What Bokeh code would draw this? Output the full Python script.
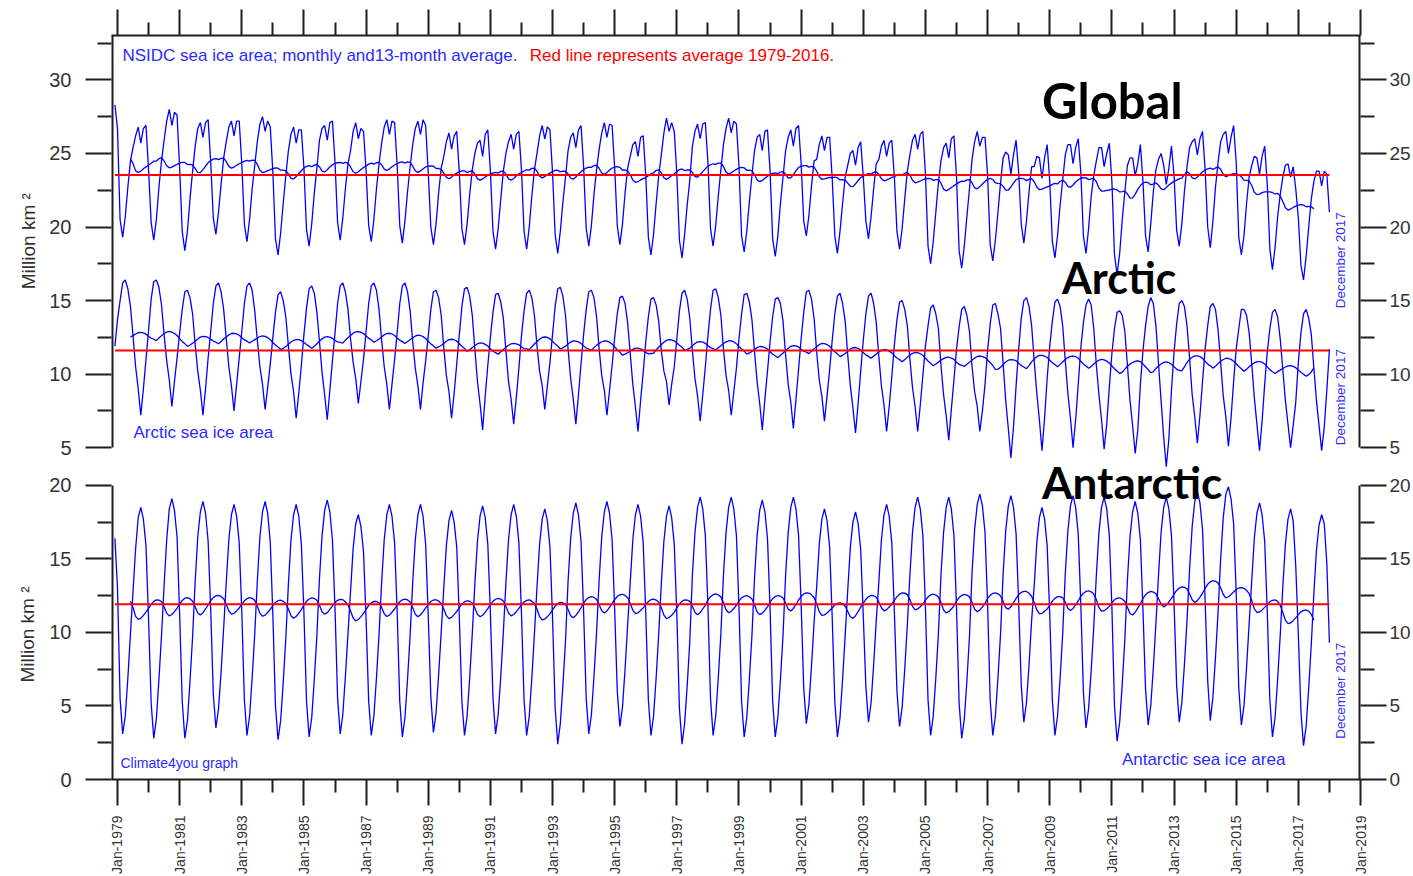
import math
import numpy as np
import pandas as pd
from bokeh.plotting import figure
from bokeh.models import (Range1d, LinearAxis, FixedTicker, Label,
                          CustomJSTickFormatter, GlobalInlineStyleSheet)
from bokeh.embed import file_html
from bokeh.resources import INLINE

# ---------------- DATA (million km2, monthly, Nov 1978 .. Dec 2017) -------------
first_year = 1978
first_month = 11

arctic = [
    11.9, 13.7,
    15.0, 16.2, 16.4, 15.8, 14.6, 12.6, 10.5, 9.0, 7.2, 9.0, 11.0, 13.0,   # 1979
    15.1, 16.3, 16.4, 15.9, 14.7, 12.7, 10.9, 9.6, 7.8, 9.5, 11.1, 12.8,   # 1980
    14.4, 15.6, 15.7, 15.2, 14.1, 12.0, 10.2, 8.9, 7.2, 9.0, 11.1, 12.9,   # 1981
    14.8, 16.0, 16.2, 15.6, 14.4, 12.4, 10.5, 9.2, 7.5, 9.3, 11.1, 12.9,   # 1982
    14.8, 16.0, 16.2, 15.7, 14.3, 12.3, 10.5, 9.3, 7.6, 9.1, 10.7, 12.5,   # 1983
    14.2, 15.4, 15.6, 15.0, 13.9, 11.9, 10.0, 8.8, 7.0, 8.7, 10.6, 12.7,   # 1984
    14.5, 15.8, 16.0, 15.5, 14.2, 12.2, 10.1, 8.6, 6.9, 8.9, 10.9, 12.8,   # 1985
    14.8, 16.0, 16.2, 15.6, 14.4, 12.4, 10.8, 9.7, 8.0, 9.5, 11.0, 12.9,   # 1986
    14.8, 16.0, 16.2, 15.7, 14.4, 12.3, 10.5, 9.3, 7.6, 9.3, 11.0, 12.8,   # 1987
    14.8, 16.0, 16.2, 15.6, 14.3, 12.2, 10.4, 9.2, 7.6, 9.4, 10.9, 12.6,   # 1988
    14.4, 15.6, 15.7, 15.2, 14.0, 11.8, 9.9, 8.8, 7.0, 8.7, 10.7, 12.7,    # 1989
    14.6, 15.8, 15.9, 15.3, 14.0, 11.7, 9.5, 8.0, 6.2, 8.5, 10.6, 12.5,    # 1990
    14.2, 15.4, 15.5, 14.9, 13.8, 11.6, 9.5, 8.3, 6.6, 8.4, 10.4, 12.6,    # 1991
    14.3, 15.5, 15.7, 15.2, 14.0, 11.9, 10.2, 9.2, 7.6, 9.2, 10.8, 12.7,   # 1992
    14.6, 15.8, 15.9, 15.3, 14.0, 11.7, 9.7, 8.3, 6.6, 8.6, 10.7, 12.7,    # 1993
    14.4, 15.6, 15.7, 15.2, 13.9, 11.7, 9.9, 8.9, 7.2, 8.9, 10.6, 12.5,    # 1994
    14.1, 15.2, 15.3, 14.8, 13.5, 11.4, 9.3, 7.8, 6.1, 8.2, 10.1, 12.2,    # 1995
    13.9, 15.1, 15.2, 14.7, 13.6, 11.6, 10.2, 9.5, 7.9, 9.3, 10.5, 12.4,   # 1996
    14.3, 15.5, 15.7, 15.1, 13.8, 11.6, 9.7, 8.5, 6.8, 8.6, 10.5, 12.6,    # 1997
    14.4, 15.7, 15.8, 15.2, 14.0, 11.7, 9.9, 8.9, 7.2, 8.8, 10.4, 12.4,    # 1998
    14.1, 15.4, 15.5, 14.9, 13.7, 11.5, 9.5, 8.0, 6.2, 8.3, 10.2, 12.2,    # 1999
    13.9, 15.1, 15.2, 14.8, 13.6, 11.3, 9.3, 8.1, 6.3, 8.3, 10.3, 12.4,    # 2000
    14.2, 15.6, 15.7, 15.1, 13.8, 11.5, 9.6, 8.5, 6.8, 8.5, 10.3, 12.3,    # 2001
    14.1, 15.3, 15.5, 14.8, 13.6, 11.3, 9.2, 7.7, 6.0, 8.0, 10.2, 12.3,    # 2002
    14.1, 15.3, 15.5, 14.8, 13.5, 11.2, 9.2, 7.9, 6.1, 7.8, 9.8, 12.0,     # 2003
    13.7, 14.9, 15.0, 14.4, 13.3, 11.0, 9.1, 7.8, 6.1, 7.9, 9.9, 11.9,     # 2004
    13.3, 14.5, 14.7, 14.1, 13.1, 10.6, 8.6, 7.2, 5.5, 7.6, 9.6, 11.7,     # 2005
    13.2, 14.4, 14.6, 14.0, 12.9, 10.5, 8.8, 7.8, 6.1, 7.5, 9.3, 11.6,     # 2006
    13.4, 14.7, 14.8, 14.1, 13.1, 10.7, 8.2, 6.3, 4.3, 6.4, 9.2, 11.7,     # 2007
    13.8, 15.0, 15.2, 14.6, 13.3, 10.9, 8.7, 6.9, 4.8, 7.0, 9.7, 11.9,     # 2008
    13.6, 14.9, 15.1, 14.6, 13.3, 10.9, 8.7, 7.0, 5.0, 6.9, 9.3, 11.8,     # 2009
    13.5, 14.7, 15.1, 14.7, 13.1, 10.6, 8.6, 6.9, 4.9, 6.6, 9.1, 11.4,     # 2010
    13.1, 14.2, 14.3, 14.0, 12.9, 10.6, 8.2, 6.5, 4.6, 6.2, 9.3, 11.6,     # 2011
    13.3, 14.6, 15.2, 14.8, 13.3, 10.7, 8.2, 5.7, 3.7, 5.6, 8.9, 11.5,     # 2012
    13.4, 14.8, 15.0, 14.6, 13.3, 11.1, 8.6, 7.1, 5.3, 7.2, 9.5, 11.7,     # 2013
    13.3, 14.6, 14.8, 14.4, 13.0, 10.8, 8.5, 7.1, 5.1, 7.0, 9.5, 11.7,     # 2014
    13.1, 14.4, 14.4, 14.0, 12.8, 10.7, 8.4, 6.6, 4.8, 6.8, 9.3, 11.5,     # 2015
    13.1, 14.2, 14.4, 13.9, 12.4, 10.3, 8.2, 6.6, 5.0, 6.5, 8.1, 10.8,     # 2016
    12.8, 14.1, 14.4, 13.8, 12.7, 10.4, 8.2, 6.5, 4.8, 6.4, 8.9, 11.7,     # 2017
]

antarctic = [
    16.4, 13.0,
    5.5, 3.1, 4.3, 6.9, 9.9, 12.8, 15.7, 17.8, 18.5, 17.7, 15.9, 10.9,     # 1979
    5.2, 2.8, 4.1, 6.8, 9.8, 13.2, 16.3, 18.4, 19.1, 18.3, 16.5, 11.2,     # 1980
    5.3, 2.8, 4.0, 6.7, 9.7, 13.5, 16.5, 18.2, 18.9, 18.1, 16.2, 11.5,     # 1981
    5.8, 3.5, 4.8, 7.3, 10.3, 13.4, 16.3, 18.0, 18.7, 17.9, 16.1, 11.4,    # 1982
    5.4, 3.0, 4.3, 6.9, 9.9, 13.5, 16.5, 18.2, 18.9, 18.1, 16.1, 11.2,     # 1983
    5.0, 2.7, 4.0, 6.6, 9.6, 13.3, 16.3, 18.0, 18.7, 17.9, 16.0, 11.3,     # 1984
    5.3, 2.9, 4.2, 6.8, 9.8, 13.7, 16.6, 18.3, 19.0, 18.2, 16.3, 11.6,     # 1985
    5.5, 3.1, 4.4, 7.0, 9.9, 12.8, 15.7, 17.4, 18.0, 17.2, 15.5, 10.9,     # 1986
    5.3, 3.0, 4.3, 6.9, 9.9, 13.4, 16.3, 18.0, 18.7, 17.9, 16.1, 11.4,     # 1987
    5.3, 2.9, 4.2, 6.8, 9.8, 13.4, 16.3, 18.0, 18.7, 17.9, 16.0, 11.1,     # 1988
    5.6, 3.2, 4.5, 7.1, 10.0, 13.0, 15.9, 17.6, 18.3, 17.5, 15.8, 11.0,    # 1989
    5.3, 3.0, 4.3, 6.9, 9.9, 13.3, 16.2, 17.9, 18.6, 17.8, 16.0, 11.3,     # 1990
    5.5, 3.1, 4.4, 7.0, 10.0, 13.4, 16.3, 18.0, 18.7, 17.9, 16.1, 11.3,    # 1991
    5.4, 3.0, 4.3, 6.9, 9.9, 13.1, 16.0, 17.7, 18.4, 17.6, 15.8, 11.0,     # 1992
    4.9, 2.4, 3.8, 6.4, 9.4, 13.5, 16.4, 18.1, 18.8, 18.0, 16.2, 11.4,     # 1993
    5.5, 3.1, 4.4, 7.0, 10.0, 13.6, 16.5, 18.2, 18.9, 18.1, 16.3, 11.5,    # 1994
    6.0, 3.6, 4.9, 7.5, 10.5, 13.4, 16.3, 18.0, 18.7, 17.9, 16.1, 11.3,    # 1995
    5.4, 3.0, 4.3, 6.9, 9.9, 13.3, 16.2, 17.9, 18.6, 17.8, 16.0, 11.2,     # 1996
    4.8, 2.4, 3.8, 6.4, 9.4, 13.9, 16.8, 18.5, 19.2, 18.4, 16.6, 11.8,     # 1997
    5.5, 3.0, 4.3, 6.9, 9.9, 13.9, 16.8, 18.5, 19.2, 18.4, 16.6, 11.7,     # 1998
    5.3, 2.9, 4.2, 6.8, 9.8, 13.7, 16.6, 18.3, 19.0, 18.2, 16.4, 11.6,     # 1999
    5.3, 2.9, 4.2, 6.8, 9.8, 13.9, 16.8, 18.5, 19.2, 18.4, 16.6, 11.9,     # 2000
    6.2, 3.8, 5.1, 7.7, 10.7, 13.1, 16.0, 17.7, 18.4, 17.6, 15.8, 11.0,    # 2001
    5.3, 2.9, 4.2, 6.8, 9.8, 12.9, 15.8, 17.5, 18.2, 17.4, 15.6, 11.1,     # 2002
    6.3, 3.9, 5.2, 7.8, 10.8, 13.4, 16.3, 18.0, 18.7, 17.9, 16.1, 11.4,    # 2003
    6.0, 3.6, 4.9, 7.5, 10.5, 13.9, 16.8, 18.5, 19.2, 18.4, 16.6, 11.7,    # 2004
    5.4, 3.0, 4.3, 6.9, 9.9, 13.9, 16.8, 18.5, 19.2, 18.4, 16.6, 11.7,     # 2005
    5.2, 2.8, 4.1, 6.7, 9.7, 14.1, 17.0, 18.7, 19.4, 18.6, 16.8, 11.9,     # 2006
    5.4, 3.0, 4.3, 6.9, 9.9, 14.0, 16.9, 18.6, 19.3, 18.5, 16.7, 12.0,     # 2007
    6.4, 3.9, 5.2, 7.8, 10.8, 13.2, 16.1, 17.8, 18.5, 17.7, 15.9, 11.2,    # 2008
    5.4, 3.0, 4.3, 6.9, 9.9, 14.0, 16.9, 18.6, 19.3, 18.5, 16.7, 11.9,     # 2009
    5.9, 3.5, 4.8, 7.4, 10.4, 13.9, 16.8, 18.5, 19.2, 18.4, 16.6, 11.7,    # 2010
    5.0, 2.6, 3.9, 6.5, 9.5, 13.6, 16.5, 18.2, 18.9, 18.1, 16.3, 11.5,     # 2011
    6.1, 3.7, 5.0, 7.6, 10.6, 13.9, 16.8, 18.5, 19.2, 18.4, 16.6, 12.0,    # 2012
    6.4, 3.9, 5.2, 7.8, 10.8, 14.3, 17.2, 18.9, 19.6, 18.8, 17.0, 12.2,    # 2013
    6.7, 4.0, 5.6, 8.3, 11.4, 15.0, 17.8, 19.4, 19.9, 19.1, 17.4, 12.7,    # 2014
    6.2, 3.7, 5.0, 7.6, 10.6, 13.5, 16.4, 18.1, 18.8, 18.0, 16.2, 11.4,    # 2015
    5.4, 2.9, 4.2, 6.8, 9.8, 13.1, 16.0, 17.7, 18.4, 17.6, 14.5, 9.8,      # 2016
    4.6, 2.3, 3.6, 6.2, 9.2, 12.7, 15.6, 17.3, 18.0, 17.4, 14.7, 9.3,      # 2017
]

x_major_years = [1979, 1981, 1983, 1985, 1987, 1989, 1991, 1993, 1995, 1997, 1999,
                 2001, 2003, 2005, 2007, 2009, 2011, 2013, 2015, 2017, 2019]
x_major_labels = ["Jan-1979", "Jan-1981", "Jan-1983", "Jan-1985", "Jan-1987", "Jan-1989",
                  "Jan-1991", "Jan-1993", "Jan-1995", "Jan-1997", "Jan-1999", "Jan-2001",
                  "Jan-2003", "Jan-2005", "Jan-2007", "Jan-2009", "Jan-2011", "Jan-2013",
                  "Jan-2015", "Jan-2017", "Jan-2019"]
x_minor_years = [1980, 1982, 1984, 1986, 1988, 1990, 1992, 1994, 1996, 1998, 2000,
                 2002, 2004, 2006, 2008, 2010, 2012, 2014, 2016, 2018]
upper_major = [5, 10, 15, 20, 25, 30]
upper_minor = [7.5, 12.5, 17.5, 22.5, 27.5, 32.5]
lower_major = [0, 5, 10, 15, 20]
lower_minor = [2.5, 7.5, 12.5, 17.5]
upper_axis_min, lower_axis_max = 5, 20
avg_first_year, avg_last_year = 1979, 2016
end_label = "December 2017"
y_title = "Million km \u00b2"

# ---------------- derived series ----------------
n = len(arctic)
idx = np.arange(n)
month_no = first_month - 1 + idx
years = first_year + month_no // 12
xs = first_year + (month_no + 1) / 12.0

arc = np.array(arctic, dtype=float)
ant = np.array(antarctic, dtype=float)
glo = arc + ant


def run13(a):
    return pd.Series(a).rolling(13, center=True).mean().to_numpy()


mask = (years >= avg_first_year) & (years <= avg_last_year)

# ---------------- geometry ----------------
W, H = 1413, 876
FL, FR, FT, FB = 111, 1362, 35, 781          # frame edges (px)
X0, X1 = 1978.807, 2019.0
Y_SPAN = 50.58
OFF = 17.56                                   # upper-panel value + OFF = lower-panel coordinate
PXX = (FR - FL) / (X1 - X0)
PXY = (FB - FT) / Y_SPAN
U_TOP = Y_SPAN - OFF


def xd(px):
    return X0 + (px - FL) / PXX


def yl(py):
    return (FB - py) / PXY


def yu(py):
    return yl(py) - OFF


p = figure(width=W, height=H, x_range=Range1d(X0, X1), y_range=Range1d(0, Y_SPAN),
           output_backend="svg", toolbar_location=None,
           x_axis_location=None, y_axis_location=None,
           min_border_left=FL, min_border_right=W - FR,
           min_border_top=FT, min_border_bottom=H - FB,
           outline_line_color=None, background_fill_color="white",
           border_fill_color="white")
p.extra_y_ranges = {"upper": Range1d(-OFF, U_TOP)}
p.xgrid.visible = False
p.ygrid.visible = False
p.stylesheets = [GlobalInlineStyleSheet(
    css="html, body { margin: 0 !important; padding: 0 !important; overflow: hidden; }")]

AX_COL = "#1e1e1e"
LBL_COL = "#333333"
FONT = "Liberation Sans"

tick_style = dict(major_tick_line_color=AX_COL, major_tick_line_width=2,
                  minor_tick_line_color=AX_COL, minor_tick_line_width=2,
                  major_tick_in=0, minor_tick_in=0)
no_ticks = dict(ticker=FixedTicker(ticks=[]), major_tick_out=0, minor_tick_out=0,
                major_tick_in=0, minor_tick_in=0, major_label_text_font_size="0px",
                major_label_standoff=0)

# --- y tick axes (one per side, both panels share a coordinate) ---
y_ticker = FixedTicker(ticks=lower_major + [v + OFF for v in upper_major],
                       minor_ticks=lower_minor + [v + OFF for v in upper_minor])
y_code = "const v = tick > split ? tick - off : tick; return String(Math.round(v));"
y_fmt_args = dict(off=OFF, split=lower_axis_max + 1)

left_ticks = LinearAxis(ticker=y_ticker,
                        formatter=CustomJSTickFormatter(args=y_fmt_args, code=y_code),
                        axis_line_color=None, major_tick_out=26, minor_tick_out=14,
                        major_label_standoff=14, major_label_text_font=FONT,
                        major_label_text_font_size="20px", major_label_text_color=LBL_COL,
                        **tick_style)
right_ticks = LinearAxis(ticker=y_ticker,
                         formatter=CustomJSTickFormatter(args=y_fmt_args, code=y_code),
                         axis_line_color=None, major_tick_out=26, minor_tick_out=14,
                         major_label_standoff=3, major_label_text_font=FONT,
                         major_label_text_font_size="19px", major_label_text_color=LBL_COL,
                         **tick_style)

# --- y titles, one per panel (both drawn in the same column; the non-breaking
#     spaces move each title along the axis to the middle of its own panel) ---
NBSP = "\u00a0"
upper_title_text = NBSP * 63 + y_title
lower_title_text = y_title + NBSP * 86


def title_axis(text, standoff):
    return LinearAxis(axis_line_color=None, axis_label=text,
                      axis_label_standoff=standoff, axis_label_text_font=FONT,
                      axis_label_text_font_style="normal", axis_label_text_font_size="19px",
                      axis_label_text_color=LBL_COL, **no_ticks)


# --- broken axis lines, one piece per panel and side ---
def line_axis(rng, bounds, loc):
    kw = {} if rng == "default" else {"y_range_name": rng}
    return LinearAxis(bounds=bounds, fixed_location=loc, axis_line_color=AX_COL,
                      axis_line_width=4, **no_ticks, **kw)


p.add_layout(left_ticks, "left")
p.add_layout(title_axis(upper_title_text, 8), "left")
p.add_layout(title_axis(lower_title_text, -23), "left")
p.add_layout(line_axis("upper", (upper_axis_min, U_TOP), X0), "left")
p.add_layout(line_axis("default", (0, lower_axis_max), X0), "left")
p.add_layout(right_ticks, "right")
p.add_layout(line_axis("upper", (upper_axis_min, U_TOP), X1), "right")
p.add_layout(line_axis("default", (0, lower_axis_max), X1), "right")

x_ticker = FixedTicker(ticks=x_major_years, minor_ticks=x_minor_years)
top = LinearAxis(ticker=x_ticker, formatter=CustomJSTickFormatter(code="return '';"),
                 axis_line_color=AX_COL, axis_line_width=2,
                 major_tick_out=26, minor_tick_out=13, major_label_standoff=0,
                 major_label_text_font_size="0px", **tick_style)
bottom = LinearAxis(ticker=x_ticker, axis_line_color=AX_COL, axis_line_width=2,
                    major_tick_out=26, minor_tick_out=13,
                    major_label_overrides=dict(zip(x_major_years, x_major_labels)),
                    major_label_orientation=math.pi / 2, major_label_standoff=10,
                    major_label_text_font=FONT, major_label_text_font_size="14px",
                    major_label_text_color=LBL_COL, **tick_style)
p.add_layout(top, "above")
p.add_layout(bottom, "below")

BLUE = "#0000ff"
RED = "#ff0000"
TXT_BLUE = "#2b2bff"

# ---------------- data lines ----------------
p.line(xs, glo, y_range_name="upper", line_color=BLUE, line_width=1.3)
p.line(xs, run13(glo), y_range_name="upper", line_color=BLUE, line_width=1.3)
p.line(xs, arc, y_range_name="upper", line_color=BLUE, line_width=1.3)
p.line(xs, run13(arc), y_range_name="upper", line_color=BLUE, line_width=1.3)
p.line(xs, ant, line_color=BLUE, line_width=1.3)
p.line(xs, run13(ant), line_color=BLUE, line_width=1.3)

ends = [xs[0], xs[-1]]
p.line(ends, [glo[mask].mean()] * 2, y_range_name="upper", line_color=RED, line_width=2)
p.line(ends, [arc[mask].mean()] * 2, y_range_name="upper", line_color=RED, line_width=2)
p.line(ends, [ant[mask].mean()] * 2, line_color=RED, line_width=2)


# ---------------- texts ----------------
def lab(text, x, y, size, color, rng="default", font=FONT, style="normal",
        angle=0.0, align="left", baseline="middle", xoff=0):
    p.add_layout(Label(x=x, y=y, text=text, y_range_name=rng, text_font=font,
                       text_font_size=size, text_color=color, text_font_style=style,
                       angle=angle, text_align=align, text_baseline=baseline, x_offset=xoff))


lab("NSIDC sea ice area; monthly and13-month average.", xd(122), yu(55.5), "17px", TXT_BLUE, "upper")
lab("Red line represents average 1979-2016.", xd(530), yu(55.5), "17px", RED, "upper")
lab("Global", xd(1043), yu(99.5), "49px", "black", "upper", font="Lato", style="bold")
lab("Arctic", xd(1063), yu(278), "43px", "black", "upper", font="Lato", style="bold")
lab("Antarctic", xd(1043), yl(483), "44px", "black", font="Lato", style="bold")
lab("Arctic sea ice area", xd(133), yu(433), "17px", TXT_BLUE, "upper")
lab("Climate4you graph", xd(120), yl(764), "14px", TXT_BLUE)
lab("Antarctic sea ice area", xd(1123), yl(761), "17px", TXT_BLUE)
lab(end_label, xs[-1], glo[-1], "13.5px", TXT_BLUE, "upper", angle=math.pi / 2,
    align="right", baseline="top", xoff=4)
lab(end_label, xs[-1], arc[-1], "13.5px", TXT_BLUE, "upper", angle=math.pi / 2,
    align="right", baseline="top", xoff=4)
lab(end_label, xs[-1], ant[-1], "13.5px", TXT_BLUE, angle=math.pi / 2,
    align="right", baseline="top", xoff=4)

open("out.html", "w").write(file_html(p, INLINE))
